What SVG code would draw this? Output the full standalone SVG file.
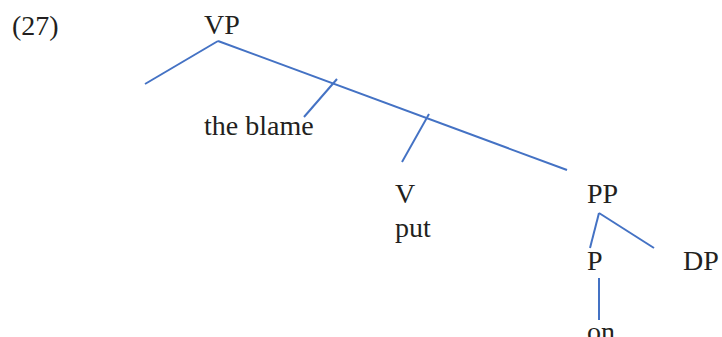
<svg xmlns="http://www.w3.org/2000/svg" width="722" height="337" viewBox="0 0 722 337">
<style>
text{font-family:"Liberation Serif","Times New Roman",serif;font-size:28px;fill:#231f20}
.e line{stroke:#4472c4;stroke-width:2;stroke-linecap:butt}
</style>
<rect width="722" height="337" fill="#fff"/>
<text id="label" x="12" y="35">(27)</text>
<g class="e" id="connectors">
<line x1="218" y1="41" x2="145" y2="84"/>
<line x1="218" y1="41" x2="567" y2="170"/>
<line x1="337" y1="79" x2="304" y2="117"/>
<line x1="429" y1="114" x2="402" y2="162"/>
<line x1="599" y1="213" x2="590" y2="248"/>
<line x1="599" y1="213" x2="654" y2="248"/>
<line x1="599" y1="278" x2="599" y2="320"/>
</g>
<g id="VP"><text x="204" y="34">VP</text></g>
<g id="theblame"><text x="204" y="135">the blame</text></g>
<g id="V"><text x="395" y="203">V</text><text x="395" y="237">put</text></g>
<g id="PP"><text x="587" y="203">PP</text></g>
<g id="P"><text x="587" y="270">P</text></g>
<g id="DP"><text x="683" y="270">DP</text></g>
<g id="on"><text x="587" y="341">on</text></g>
</svg>
